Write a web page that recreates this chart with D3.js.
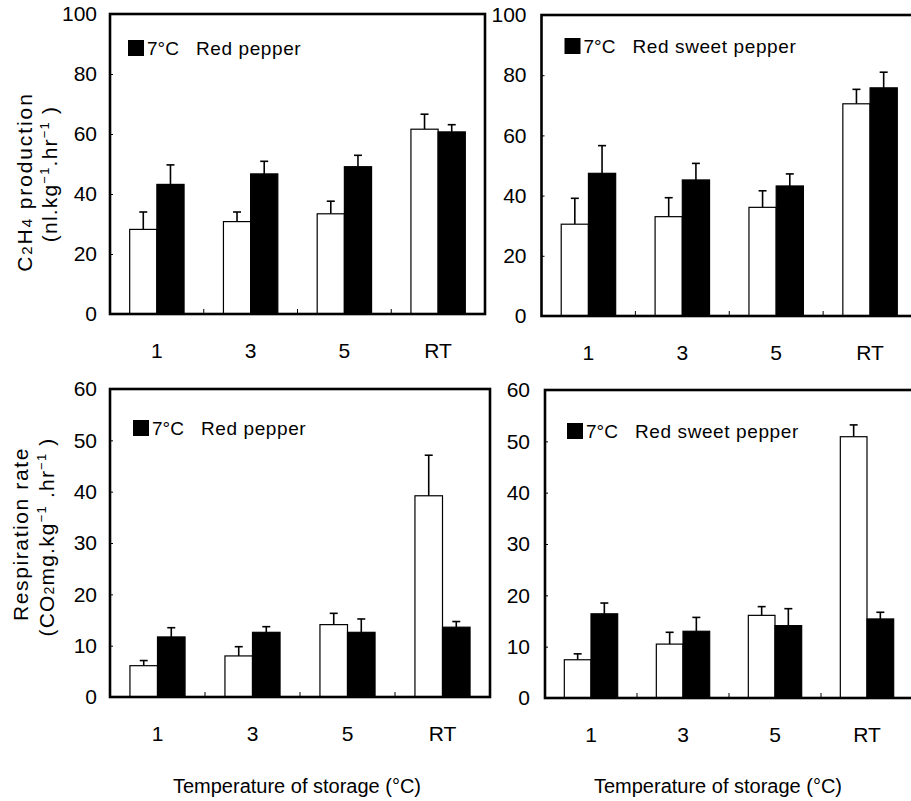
<!DOCTYPE html>
<html>
<head>
<meta charset="utf-8">
<script src="https://cdn.jsdelivr.net/npm/d3@7"></script>
<style>
  html, body { margin: 0; padding: 0; background: #fff; }
  svg { display: block; }
  text { font-family: "Liberation Sans", Arial, sans-serif; fill: #000; }
</style>
</head>
<body>
<svg id="chart" width="911" height="801"></svg>
<script>
// Storage temperature groups and bar series
const categories = ["1", "3", "5", "RT"];
const seriesKeys = ["control", "7°C"];

// C2H4 production (nl.kg-1.hr-1)
const c2h4PepperControl = [28.2, 30.8, 33.4, 61.6];
const c2h4PepperControlErr = [5.8, 3.2, 4.2, 5.0];
const c2h4Pepper7C = [43.2, 46.7, 49.1, 60.7];
const c2h4Pepper7CErr = [6.5, 4.2, 3.8, 2.4];

const c2h4SweetControl = [30.5, 33.0, 36.1, 70.5];
const c2h4SweetControlErr = [8.6, 6.3, 5.5, 4.8];
const c2h4Sweet7C = [47.4, 45.2, 43.2, 75.8];
const c2h4Sweet7CErr = [9.2, 5.5, 4.0, 5.2];

// Respiration rate (CO2 mg.kg-1.hr-1)
const respPepperControl = [6.1, 8.0, 14.1, 39.2];
const respPepperControlErr = [1.0, 1.8, 2.2, 7.9];
const respPepper7C = [11.7, 12.6, 12.6, 13.6];
const respPepper7CErr = [1.8, 1.1, 2.6, 1.1];

const respSweetControl = [7.45, 10.5, 16.1, 50.9];
const respSweetControlErr = [1.15, 2.3, 1.7, 2.3];
const respSweet7C = [16.4, 13.0, 14.1, 15.4];
const respSweet7CErr = [2.1, 2.7, 3.3, 1.3];

// Axis ticks
const c2h4Ticks = [0, 20, 40, 60, 80, 100];
const respTicks = [0, 10, 20, 30, 40, 50, 60];

// Legend labels
const legendKey = "7°C";
const cropNames = ["Red pepper", "Red sweet pepper"];
const xTitle = "Temperature of storage (°C)";

const svg = d3.select("#chart");

function rows(ctrl, ctrlErr, cold, coldErr) {
  return categories.map((c, i) => ({
    cat: c,
    bars: [
      { key: seriesKeys[0], value: ctrl[i], err: ctrlErr[i] },
      { key: seriesKeys[1], value: cold[i], err: coldErr[i] }
    ]
  }));
}

const panels = [
  { data: rows(c2h4PepperControl, c2h4PepperControlErr, c2h4Pepper7C, c2h4Pepper7CErr),
    ticks: c2h4Ticks, max: 100, crop: cropNames[0],
    x0: 110, x1: 485, yTop: 14, yBot: 314, pad: 13, leg: [18, 26] },
  { data: rows(c2h4SweetControl, c2h4SweetControlErr, c2h4Sweet7C, c2h4Sweet7CErr),
    ticks: c2h4Ticks, max: 100, crop: cropNames[1],
    x0: 541.5, x1: 917, yTop: 15, yBot: 316, pad: 15, leg: [23, 23] },
  { data: rows(respPepperControl, respPepperControlErr, respPepper7C, respPepper7CErr),
    ticks: respTicks, max: 60, crop: cropNames[0],
    x0: 110, x1: 490, yTop: 389, yBot: 697, pad: 13, leg: [23, 31] },
  { data: rows(respSweetControl, respSweetControlErr, respSweet7C, respSweet7CErr),
    ticks: respTicks, max: 60, crop: cropNames[1],
    x0: 545, x1: 913, yTop: 390, yBot: 698, pad: 15, leg: [22, 33] }
];

panels.forEach(p => {
  const g = svg.append("g");
  const x = d3.scaleBand().domain(categories).range([p.x0, p.x1]).padding(0);
  const y = d3.scaleLinear().domain([0, p.max]).range([p.yBot, p.yTop]);
  const pairW = x.bandwidth() * 0.58;

  // bars with upper error whiskers
  p.data.forEach(d => {
    const cx = x(d.cat) + x.bandwidth() / 2;
    const xs = d3.scaleBand().domain(seriesKeys).range([cx - pairW / 2, cx + pairW / 2]);
    d.bars.forEach(b => {
      const bx = xs(b.key), bw = xs.bandwidth();
      const mid = bx + bw / 2;
      g.append("line")
        .attr("x1", mid).attr("x2", mid)
        .attr("y1", y(b.value)).attr("y2", y(b.value + b.err))
        .attr("stroke", "#000").attr("stroke-width", 1.6);
      g.append("line")
        .attr("x1", mid - 4).attr("x2", mid + 4)
        .attr("y1", y(b.value + b.err)).attr("y2", y(b.value + b.err))
        .attr("stroke", "#000").attr("stroke-width", 1.6);
      g.append("rect")
        .attr("x", bx).attr("width", bw)
        .attr("y", y(b.value)).attr("height", y(0) - y(b.value))
        .attr("fill", b.key === seriesKeys[1] ? "#000" : "#fff")
        .attr("stroke", "#000").attr("stroke-width", 1.2);
    });
  });

  // y axis (inward ticks, labels to the left)
  const yAxis = g.append("g")
    .attr("transform", `translate(${p.x0},0)`)
    .call(d3.axisLeft(y).tickValues(p.ticks).tickSizeInner(-3).tickSizeOuter(0).tickPadding(p.pad));
  yAxis.select(".domain").remove();
  yAxis.selectAll(".tick line").attr("stroke-width", 1);
  yAxis.selectAll("text").attr("font-size", 21);

  // x axis category labels
  const xAxis = g.append("g")
    .attr("transform", `translate(0,${p.yBot})`)
    .call(d3.axisBottom(x).tickSize(0).tickPadding(29));
  xAxis.select(".domain").remove();
  xAxis.selectAll("text").attr("font-size", 21);

  // small upward marks between groups
  categories.slice(1).forEach(c => {
    g.append("line")
      .attr("x1", x(c)).attr("x2", x(c))
      .attr("y1", p.yBot).attr("y2", p.yBot - 5)
      .attr("stroke", "#000").attr("stroke-width", 1);
  });

  // frame
  g.append("rect")
    .attr("x", p.x0).attr("y", p.yTop)
    .attr("width", p.x1 - p.x0).attr("height", p.yBot - p.yTop)
    .attr("fill", "none").attr("stroke", "#000").attr("stroke-width", 2.6);

  // legend
  const lx = p.x0 + p.leg[0], ly = p.yTop + p.leg[1];
  g.append("rect").attr("x", lx).attr("y", ly).attr("width", 16).attr("height", 16).attr("fill", "#000");
  g.append("text").attr("x", lx + 19).attr("y", ly + 15)
    .attr("font-size", 19).text(legendKey);
  g.append("text").attr("x", lx + 68).attr("y", ly + 15)
    .attr("font-size", 19).attr("letter-spacing", 0.6).text(p.crop);
});

// y-axis titles (rotated, two lines)
function vTitle(cx, cy, build) {
  const t = svg.append("text")
    .attr("transform", `translate(${cx},${cy}) rotate(-90)`)
    .attr("text-anchor", "middle")
    .attr("font-size", 21);
  build(t);
  return t;
}

vTitle(32, 182, t => {
  t.attr("letter-spacing", 1.9);
  t.append("tspan").text("C");
  t.append("tspan").attr("font-size", 15).text("2");
  t.append("tspan").text("H");
  t.append("tspan").attr("font-size", 15).text("4");
  t.append("tspan").text(" production");
});
vTitle(57, 174, t => {
  t.attr("letter-spacing", 1.2);
  t.append("tspan").text("(nl.kg");
  t.append("tspan").attr("font-size", 13).attr("dy", -8).text("−1");
  t.append("tspan").attr("dy", 8).text(".hr");
  t.append("tspan").attr("font-size", 13).attr("dy", -8).text("−1");
  t.append("tspan").attr("dy", 8).text(" )");
});

vTitle(28, 534, t => {
  t.attr("letter-spacing", 1.6);
  t.text("Respiration rate");
});
vTitle(54, 537, t => {
  t.attr("letter-spacing", 1.2);
  t.append("tspan").text("(CO");
  t.append("tspan").attr("font-size", 14).text("2");
  t.append("tspan").text("mg.kg");
  t.append("tspan").attr("font-size", 13).attr("dy", -8).text("−1");
  t.append("tspan").attr("dy", 8).text(" .hr");
  t.append("tspan").attr("font-size", 13).attr("dy", -8).text("−1");
  t.append("tspan").attr("dy", 8).text(" )");
});

// x-axis titles under each bottom panel
[297, 718].forEach(cx => {
  svg.append("text")
    .attr("x", cx).attr("y", 793)
    .attr("text-anchor", "middle")
    .attr("font-size", 20)
    .text(xTitle);
});
</script>
</body>
</html>
